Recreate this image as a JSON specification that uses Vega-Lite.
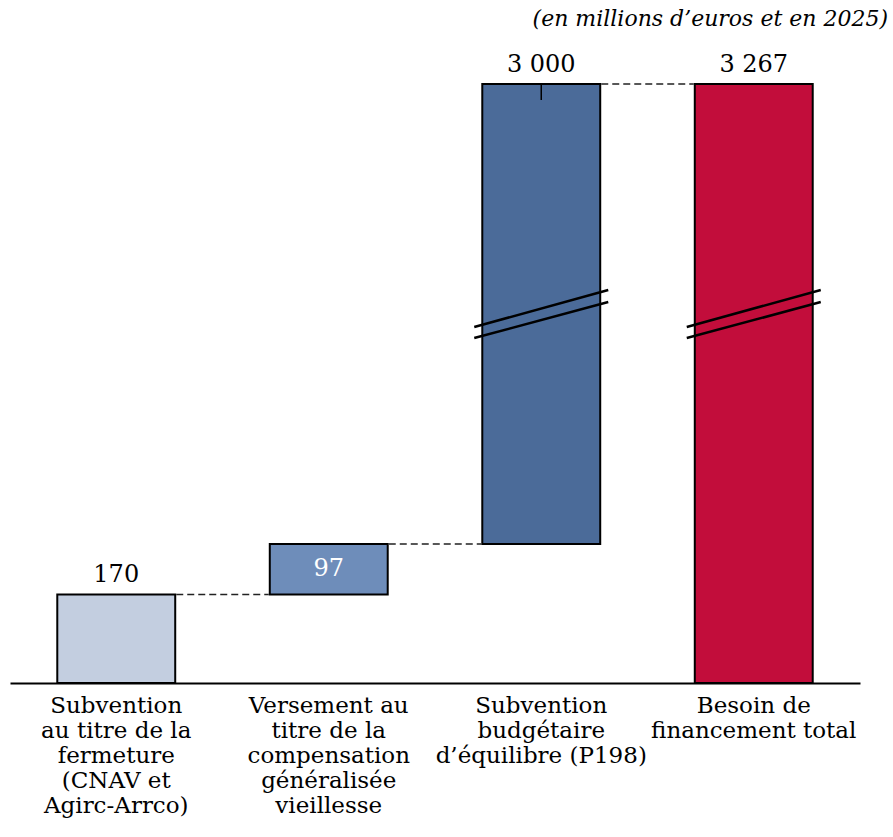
{
  "$schema": "https://vega.github.io/schema/vega-lite/v6.json",
  "width": 850,
  "height": 643,
  "autosize": {"type": "none"},
  "padding": {"left": 10, "top": 40, "right": 33, "bottom": 154},
  "title": {
    "text": "(en millions d’euros et en 2025)",
    "anchor": "end",
    "font": "DejaVu Serif",
    "fontStyle": "italic",
    "fontWeight": "normal",
    "fontSize": 22,
    "color": "#000",
    "dx": 28,
    "offset": 9
  },
  "config": {
    "view": {"stroke": null},
    "locale": {"number": {"decimal": ",", "thousands": "\u00a0", "grouping": [3], "currency": ["", "\u00a0€"]}}
  },
  "resolve": {"axis": {"x": "independent", "y": "independent"}},
  "datasets": {
    "main": [
      {"id": 1, "cat": "Subvention\nau titre de la\nfermeture\n(CNAV et\nAgirc-Arrco)", "start": 0, "end": 170, "value": 170},
      {"id": 2, "cat": "Versement au\ntitre de la\ncompensation\ngénéralisée\nvieillesse", "start": 170, "end": 267, "value": 97},
      {"id": 3, "cat": "Subvention\nbudgétaire\nd’équilibre (P198)", "start": 267, "end": 3267, "value": 3000},
      {"id": 4, "cat": "Besoin de\nfinancement total", "start": 0, "end": 3267, "value": 3267}
    ],
    "connectors": [
      {"from": "Subvention\nau titre de la\nfermeture\n(CNAV et\nAgirc-Arrco)", "to": "Versement au\ntitre de la\ncompensation\ngénéralisée\nvieillesse", "level": 170},
      {"from": "Versement au\ntitre de la\ncompensation\ngénéralisée\nvieillesse", "to": "Subvention\nbudgétaire\nd’équilibre (P198)", "level": 267},
      {"from": "Subvention\nbudgétaire\nd’équilibre (P198)", "to": "Besoin de\nfinancement total", "level": 3267}
    ],
    "breaks": [
      {"cat": "Subvention\nbudgétaire\nd’équilibre (P198)", "lo": 1682, "hi": 1924},
      {"cat": "Subvention\nbudgétaire\nd’équilibre (P198)", "lo": 1610, "hi": 1845},
      {"cat": "Besoin de\nfinancement total", "lo": 1682, "hi": 1924},
      {"cat": "Besoin de\nfinancement total", "lo": 1610, "hi": 1845}
    ],
    "tick": [
      {"cat": "Subvention\nbudgétaire\nd’équilibre (P198)", "top": 3267, "bottom": 3163}
    ]
  },
  "layer": [
    {
      "data": {"name": "main"},
      "mark": {"type": "bar", "stroke": "#000", "strokeWidth": 2},
      "encoding": {
        "x": {
          "field": "cat",
          "type": "nominal",
          "sort": null,
          "scale": {
            "domain": [
              "Subvention\nau titre de la\nfermeture\n(CNAV et\nAgirc-Arrco)",
              "Versement au\ntitre de la\ncompensation\ngénéralisée\nvieillesse",
              "Subvention\nbudgétaire\nd’équilibre (P198)",
              "Besoin de\nfinancement total"
            ],
            "paddingInner": 0.445,
            "paddingOuter": 0.2225
          },
          "axis": {
            "title": null,
            "ticks": false,
            "domainColor": "#000",
            "domainWidth": 2,
            "labelFont": "DejaVu Serif",
            "labelFontSize": 23,
            "labelColor": "#000",
            "labelAngle": 0,
            "labelLineHeight": 25,
            "labelPadding": 11,
            "labelLimit": 0,
            "labelOverlap": false,
            "labelBound": false,
            "labelExpr": "split(datum.label, '\\n')"
          }
        },
        "y": {
          "field": "start",
          "type": "quantitative",
          "scale": {"domain": [0, 267, 3267], "range": [643, 504, 44], "nice": false, "zero": false},
          "axis": null
        },
        "y2": {"field": "end"},
        "color": {
          "field": "id",
          "type": "nominal",
          "scale": {"domain": [1, 2, 3, 4], "range": ["#c3cee0", "#6e8dba", "#4b6b99", "#c20d3b"]},
          "legend": null
        }
      }
    },
    {
      "data": {"name": "connectors"},
      "mark": {"type": "rule", "color": "#222", "strokeWidth": 1.3, "strokeDash": [7, 4], "xOffset": 60, "x2Offset": -60},
      "encoding": {
        "x": {"field": "from", "type": "nominal", "axis": null},
        "x2": {"field": "to"},
        "y": {"field": "level", "type": "quantitative", "axis": null}
      }
    },
    {
      "data": {"name": "breaks"},
      "mark": {"type": "rule", "color": "#000", "strokeWidth": 2.5, "xOffset": -67, "x2Offset": 67},
      "encoding": {
        "x": {"field": "cat", "type": "nominal", "axis": null},
        "x2": {"field": "cat"},
        "y": {"field": "lo", "type": "quantitative", "axis": null},
        "y2": {"field": "hi"}
      }
    },
    {
      "data": {"name": "tick"},
      "mark": {"type": "rule", "color": "#000", "strokeWidth": 1.5},
      "encoding": {
        "x": {"field": "cat", "type": "nominal", "axis": null},
        "y": {"field": "top", "type": "quantitative", "axis": null},
        "y2": {"field": "bottom"}
      }
    },
    {
      "data": {"name": "main"},
      "transform": [{"filter": "datum.id != 2"}],
      "mark": {"type": "text", "font": "DejaVu Serif", "fontSize": 24, "color": "#000", "baseline": "alphabetic", "dy": -12},
      "encoding": {
        "x": {"field": "cat", "type": "nominal", "axis": null},
        "y": {"field": "end", "type": "quantitative", "axis": null},
        "text": {"field": "value", "type": "quantitative", "format": ",d"}
      }
    },
    {
      "data": {"name": "main"},
      "transform": [{"filter": "datum.id == 2"}],
      "mark": {"type": "text", "font": "DejaVu Serif", "fontSize": 24, "color": "#fff", "baseline": "top", "dy": 13},
      "encoding": {
        "x": {"field": "cat", "type": "nominal", "axis": null},
        "y": {"field": "end", "type": "quantitative", "axis": null},
        "text": {"field": "value", "type": "quantitative", "format": ",d"}
      }
    }
  ]
}
